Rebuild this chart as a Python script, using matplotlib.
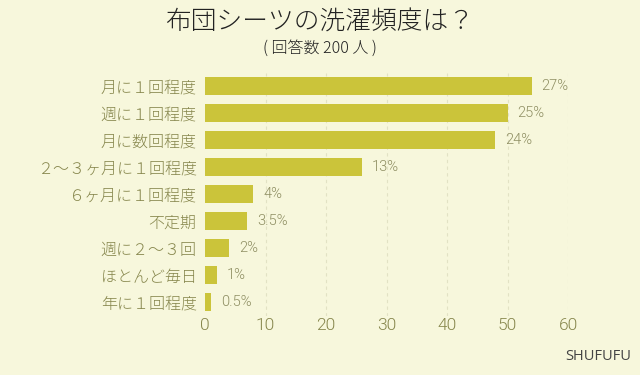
import matplotlib
matplotlib.use("Agg")
import matplotlib.pyplot as plt

plt.rcParams['font.family'] = ['Noto Sans CJK JP', 'DejaVu Sans']

categories = ["月に１回程度", "週に１回程度", "月に数回程度", "２～３ヶ月に１回程度",
              "６ヶ月に１回程度", "不定期", "週に２～３回", "ほとんど毎日", "年に１回程度"]
counts = [54, 50, 48, 26, 8, 7, 4, 2, 1]
pct_labels = ["27%", "25%", "24%", "13%", "4%", "3.5%", "2%", "1%", "0.5%"]
xticks = [0, 10, 20, 30, 40, 50, 60]

bg = "#f7f7dc"
bar_color = "#cbc43a"
label_color = "#86864c"
val_color = "#8e8e62"

fig = plt.figure(figsize=(6.4, 3.75), dpi=100, facecolor=bg)
ax = fig.add_axes([205/640, (375-315.5)/375, (568-205)/640, (315.5-72.5)/375])
ax.set_facecolor(bg)

y = list(range(len(categories)))
ax.barh(y, counts, height=0.7, color=bar_color, zorder=2)
ax.set_ylim(len(categories) - 0.5, -0.5)
ax.set_xlim(0, 60)
ax.set_yticks(y)
ax.set_yticklabels(categories, fontsize=11.5, color=label_color, fontweight='light')
ax.set_xticks(xticks)
ax.set_xticklabels([str(t) for t in xticks], fontsize=12.5, color=label_color,
                   family=["Roboto", "DejaVu Sans"], fontweight=300)
ax.tick_params(axis='y', length=0, pad=6)
ax.tick_params(axis='x', length=0, pad=2)
for s in ax.spines.values():
    s.set_visible(False)
for t in xticks[1:]:
    ax.axvline(t, color="#e2e2c4", lw=0.8, ls=(0, (3, 3)), zorder=1)

for yi, c, lab in zip(y, counts, pct_labels):
    ax.annotate(lab, (c, yi), xytext=(7, 0), textcoords="offset points",
                va="center", ha="left", fontsize=10.5, color=val_color,
                family=["Roboto", "DejaVu Sans"], fontweight=300)

fig.text(0.5, 1 - 22/375, "布団シーツの洗濯頻度は？", ha="center", va="center",
         fontsize=18.5, color="#222222", fontweight='light')
fig.text(0.5, 1 - 48/375, "( 回答数 200 人 )", ha="center", va="center",
         fontsize=11.5, color="#222222", fontweight='light')
fig.text(598/640, 1 - 357/375, "SHUFUFU", ha="center", va="center",
         fontsize=10.5, color="#444444", family=["Open Sans", "DejaVu Sans"])

fig.savefig("out.png", dpi=100, facecolor=bg)
